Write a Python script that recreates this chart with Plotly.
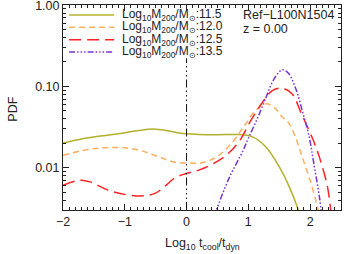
import plotly.graph_objects as go

# ---- data ----
x_115 = [-2.0, -1.7, -1.4, -1.1, -0.8, -0.55, -0.3, -0.1, 0.2, 0.5, 0.85, 1.07, 1.285, 1.5, 1.66, 1.81, 1.87]
y_115 = [0.0202, 0.0226, 0.0245, 0.0262, 0.0285, 0.0300, 0.0285, 0.0265, 0.0257, 0.0255, 0.0256, 0.0240, 0.0180, 0.0103, 0.0059, 0.0030, 0.0020]

x_120 = [-2.0, -1.68, -1.4, -1.19, -0.97, -0.71, -0.44, -0.19, 0.05, 0.25, 0.5, 0.75, 0.95, 1.1, 1.28, 1.42, 1.55, 1.66, 1.77, 1.88, 1.98, 2.09, 2.13, 2.17]
y_120 = [0.0142, 0.0163, 0.0175, 0.0178, 0.0175, 0.0160, 0.0135, 0.0117, 0.0114, 0.0115, 0.0138, 0.0210, 0.034, 0.049, 0.061, 0.055, 0.042, 0.035, 0.023, 0.013, 0.0078, 0.0040, 0.0030, 0.0020]

x_125 = [-2.0, -1.73, -1.56, -1.27, -0.81, -0.52, -0.32, -0.19, 0.02, 0.21, 0.58, 0.84, 1.04, 1.23, 1.39, 1.55, 1.71, 1.85, 1.98, 2.06, 2.15, 2.28, 2.33, 2.36]
y_125 = [0.0061, 0.0070, 0.0067, 0.0053, 0.0045, 0.0048, 0.0062, 0.0075, 0.0086, 0.0094, 0.0131, 0.0205, 0.038, 0.064, 0.089, 0.095, 0.081, 0.048, 0.029, 0.021, 0.0135, 0.0059, 0.0032, 0.0022]

x_135 = [0.44, 0.48, 0.69, 0.91, 1.0, 1.15, 1.285, 1.42, 1.55, 1.65, 1.77, 1.88, 1.98, 2.06, 2.15, 2.19]
y_135 = [0.0025, 0.0030, 0.0075, 0.0160, 0.023, 0.041, 0.073, 0.125, 0.160, 0.145, 0.093, 0.048, 0.025, 0.0113, 0.0044, 0.0025]

labels = ["11.5", "12.0", "12.5", "13.5"]
colors = ["#b4b02c", "#ffaf5f", "#ff2424", "#7a32d4"]
dashes = ["solid", "6px,4px", "12px,6px", "6px,2px,1.5px,2px,1.5px,2px,1.5px,2px"]

x_tickvals = [-2, -1, 0, 1, 2]
x_ticktext = ["\u22122", "\u22121", "0", "1", "2"]
y_tickvals = [0.01, 0.1, 1.0]
y_ticktext = ["0.01", "0.10", "1.00"]

sim_label = "Ref\u2212L100N1504"
z_label = "z = 0.00"
ref_x = 0.0

font_family = "Liberation Sans, Arial, sans-serif"
txt_color = "#222222"

fig = go.Figure()
series = [(x_115, y_115), (x_120, y_120), (x_125, y_125), (x_135, y_135)]
for (xs, ys), lab, col, dsh in zip(series, labels, colors, dashes):
    fig.add_trace(go.Scatter(
        x=xs, y=ys, mode="lines",
        line=dict(color=col, width=1.5, dash=dsh, shape="spline", smoothing=1.0),
        name=lab, showlegend=False, hoverinfo="skip",
    ))

# vertical reference line at x = 0
fig.add_shape(type="line", xref="x", yref="paper", x0=ref_x, x1=ref_x, y0=0, y1=0.74,
              line=dict(color="#111111", width=1,
                        dash="8px,3px,1.5px,3px,1.5px,3px,1.5px,3px"))

# manual legend
leg_y = [0.951, 0.891, 0.831, 0.771]
for ly, lab, col, dsh in zip(leg_y, labels, colors, dashes):
    fig.add_shape(type="line", xref="paper", yref="paper", x0=0.022, x1=0.184, y0=ly, y1=ly,
                  line=dict(color=col, width=1.5, dash=dsh))
    fig.add_annotation(xref="paper", yref="paper", x=0.21, y=ly, xanchor="left", yanchor="middle",
                       text="Log<sub>10</sub>M<sub>200</sub>/M<sub>\u2299</sub>:" + lab,
                       showarrow=False, borderpad=0,
                       font=dict(size=12, color=txt_color, family=font_family))

fig.add_annotation(xref="paper", yref="paper", x=0.644, y=0.951, xanchor="left", yanchor="middle",
                   text=sim_label, showarrow=False, borderpad=0,
                   font=dict(size=12.5, color=txt_color, family=font_family))
fig.add_annotation(xref="paper", yref="paper", x=0.644, y=0.885, xanchor="left", yanchor="middle",
                   text=z_label, showarrow=False, borderpad=0,
                   font=dict(size=12.5, color=txt_color, family=font_family))

# axis titles
fig.add_annotation(xref="paper", yref="paper", x=0.5, y=-0.165, xanchor="center", yanchor="middle",
                   text="Log<sub>10</sub> t<sub>cool</sub>/t<sub>dyn</sub>", showarrow=False, borderpad=0,
                   font=dict(size=12.5, color=txt_color, family=font_family))
fig.add_annotation(xref="paper", yref="paper", x=-0.183, y=0.49, xanchor="center", yanchor="middle",
                   text="PDF", textangle=-90, showarrow=False, borderpad=0,
                   font=dict(size=12.5, color=txt_color, family=font_family))

x_minor = [round(-2 + 0.1 * i, 1) for i in range(46) if round(-2 + 0.1 * i, 1) not in x_tickvals]
y_minor = [m * d for d in (0.001, 0.01, 0.1) for m in range(2, 10) if m * d >= 0.003]

fig.update_layout(
    width=349, height=254,
    margin=dict(l=63, r=8, t=5, b=44, autoexpand=False),
    paper_bgcolor="white", plot_bgcolor="white",
    font=dict(family=font_family, size=12, color=txt_color),
    xaxis=dict(
        range=[-2, 2.5], tickmode="array", tickvals=x_tickvals, ticktext=x_ticktext,
        showgrid=False, zeroline=False, showline=True, linecolor="#222", linewidth=1,
        mirror="allticks", ticks="inside", ticklen=6, tickcolor="#222", automargin=False,
        minor=dict(tickmode="array", tickvals=x_minor, ticks="inside", ticklen=3, tickcolor="#222", showgrid=False),
        tickfont=dict(size=12.5), ticklabeloverflow="allow",
    ),
    yaxis=dict(
        type="log", range=[-2.52, 0.002], tickmode="array", tickvals=y_tickvals, ticktext=y_ticktext,
        showgrid=False, zeroline=False, showline=True, linecolor="#222", linewidth=1,
        mirror="allticks", ticks="inside", ticklen=6, tickcolor="#222", automargin=False,
        minor=dict(tickmode="array", tickvals=y_minor, ticks="inside", ticklen=3, tickcolor="#222", showgrid=False),
        tickfont=dict(size=12.5), ticklabeloverflow="allow",
    ),
    showlegend=False,
)

fig.write_html("out.html", config={"displayModeBar": False, "staticPlot": True},
               post_script="document.body.style.margin='0';document.body.style.overflow='hidden';")
